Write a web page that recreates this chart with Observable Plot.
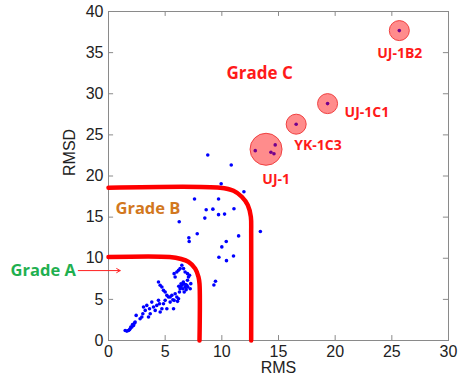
<!DOCTYPE html>
<html><head><meta charset="utf-8">
<script src="https://cdn.jsdelivr.net/npm/d3@7"></script>
<script src="https://cdn.jsdelivr.net/npm/@observablehq/plot@0.6"></script>
<style>body{margin:0;background:#fff}</style>
</head><body><div id="chart"></div>
<script>
// scatter samples (RMS, RMSD)
const rms = [1.47,1.62,1.76,1.91,2.06,2.21,2.35,2.44,1.97,1.85,2.12,2.29,2.79,3.03,2.94,3.09,3.24,3.38,3.53,3.68,3.62,3.82,3.97,4.12,4.26,4.41,4.5,4.56,4.71,4.85,5.0,5.15,5.29,5.44,5.59,5.74,5.79,5.88,6.03,6.18,6.26,6.32,6.38,6.47,6.56,6.62,6.68,6.76,6.85,6.91,6.97,7.06,7.15,7.21,7.26,5.88,5.79,6.03,6.18,6.32,6.47,6.62,6.76,6.97,4.41,4.56,4.71,4.85,5.0,5.15,5.44,5.68,6.09,6.4,6.6,6.2,6.8,7.0,
  8.76,10.83,9.94,11.95,7.59,9.71,8.62,9.21,11.07,9.71,10.24,8.5,6.24,13.4,7.83,7.09,7.12,11.48,10.39,10.0,9.74,10.41,11.03,9.44,9.3,
  12.95,14.71,14.33,14.6,16.56,19.33,25.66];
const rmsd = [1.22,1.14,1.22,1.42,1.63,1.83,2.24,3.05,1.63,1.30,1.95,2.11,2.64,3.25,2.85,4.07,3.66,4.27,2.85,3.25,3.86,4.67,4.07,3.66,4.27,4.88,4.47,3.46,3.86,4.47,4.88,3.86,5.28,4.67,5.49,3.86,4.88,5.69,5.28,5.08,5.89,6.3,6.5,6.71,6.3,6.91,5.89,6.5,6.18,6.71,7.32,7.72,7.93,6.3,6.91,7.72,8.13,8.33,8.54,8.74,9.15,8.74,8.33,8.13,7.11,6.71,6.5,6.1,5.89,5.49,5.28,4.96,4.76,6.9,7.1,6.6,6.8,6.5,
  22.56,21.34,19.06,18.09,17.2,17.2,15.9,15.97,16.01,15.3,15.37,14.88,14.43,13.25,12.97,12.48,12.03,12.72,12.03,11.38,10.12,9.71,10.28,7.2,6.75,
  23.08,23.78,22.88,22.7,26.3,28.8,37.68];

// highlighted groups
const groupNames = ["UJ-1","YK-1C3","UJ-1C1","UJ-1B2"];
const groupX = [13.9,16.56,19.33,25.66];
const groupY = [23.25,26.3,28.8,37.68];
const groupR = [16,10,10,10];
const labelX = [14.8,18.48,22.8,25.7];
const labelY = [19.6,23.66,27.7,34.9];

// grade boundaries
const gradeAX = [0,5.4,6.41,7.06,7.65,7.94,8.03,8.03];
const gradeAY = [10.16,10.16,9.91,9.55,8.74,7.72,6.9,0];
const gradeBX = [0,9.85,11.03,11.76,12.29,12.56,12.59,12.59];
const gradeBY = [18.57,18.57,18.21,17.48,16.46,15.04,13.0,0];

const xTicks = [0,5,10,15,20,25,30];
const yTicks = [0,5,10,15,20,25,30,35,40];

const pts = rms.map((x,i)=>({x, y: rmsd[i]}));
const groups = groupNames.map((n,i)=>({n, x:groupX[i], y:groupY[i], r:groupR[i], lx:labelX[i], ly:labelY[i]}));
const lineA = gradeAX.map((x,i)=>({x, y:gradeAY[i]}));
const lineB = gradeBX.map((x,i)=>({x, y:gradeBY[i]}));

const font = "Liberation Sans, Arial, sans-serif";
const bold = "Open Sans, sans-serif";

const chart = Plot.plot({
  width: 459, height: 379,
  marginLeft: 108, marginRight: 11, marginTop: 11, marginBottom: 39,
  style: {fontFamily: font, background: "#fff"},
  x: {domain: [0,30]},
  y: {domain: [0,40]},
  r: {type: "identity"},
  marks: [
    Plot.frame({stroke: "#8a8a8a"}),
    Plot.ruleX(xTicks, {x: d=>d, y1: 0, y2: 0.6, stroke: "#8a8a8a"}),
    Plot.ruleX(xTicks, {x: d=>d, y1: 40, y2: 39.4, stroke: "#8a8a8a"}),
    Plot.ruleY(yTicks, {y: d=>d, x1: 0, x2: 0.45, stroke: "#8a8a8a"}),
    Plot.ruleY(yTicks, {y: d=>d, x1: 30, x2: 29.55, stroke: "#8a8a8a"}),
    Plot.axisX({ticks: xTicks, tickSize: 0, tickPadding: 5, label: null, fontSize: 16, fill: "#222"}),
    Plot.axisY({ticks: yTicks, tickSize: 0, tickPadding: 5, label: null, fontSize: 16, fill: "#222"}),
    Plot.text(["RMS"], {frameAnchor: "bottom", dy: 32, fontSize: 16, fill: "#222"}),
    Plot.text(["RMSD"], {frameAnchor: "left", dx: -39, rotate: -90, fontSize: 16, fill: "#222"}),
    Plot.line(lineA, {x: "x", y: "y", stroke: "#ff0000", strokeWidth: 4.5, curve: "catmull-rom"}),
    Plot.line(lineB, {x: "x", y: "y", stroke: "#ff0000", strokeWidth: 4.5, curve: "catmull-rom"}),
    Plot.dot(pts, {x: "x", y: "y", r: 1.8, fill: "#0000ff"}),
    Plot.dot(groups, {x: "x", y: "y", r: "r", fill: "#ff0000", fillOpacity: 0.45, stroke: "#f04040", strokeWidth: 1}),
    Plot.text(groups, {x: "lx", y: "ly", text: "n", fill: "#ff1a1a", fontSize: 14, fontWeight: "bold", fontFamily: bold}),
    Plot.text(["Grade C"], {x: 13.33, y: 32.5, fill: "#ff1a1a", fontSize: 17, fontWeight: "bold", fontFamily: bold}),
    Plot.text(["Grade B"], {x: 3.48, y: 16.0, fill: "#d2781e", fontSize: 16.5, fontWeight: "bold", fontFamily: bold}),
    Plot.text(["Grade A"], {x: -5.76, y: 8.5, fill: "#1fb050", fontSize: 16.5, fontWeight: "bold", fontFamily: bold}),
    Plot.arrow([0], {x1: -2.67, y1: 8.5, x2: 1.03, y2: 8.5, stroke: "#ff2020", strokeWidth: 1, headLength: 6})
  ]
});
document.getElementById("chart").append(chart);
</script>
</body></html>
